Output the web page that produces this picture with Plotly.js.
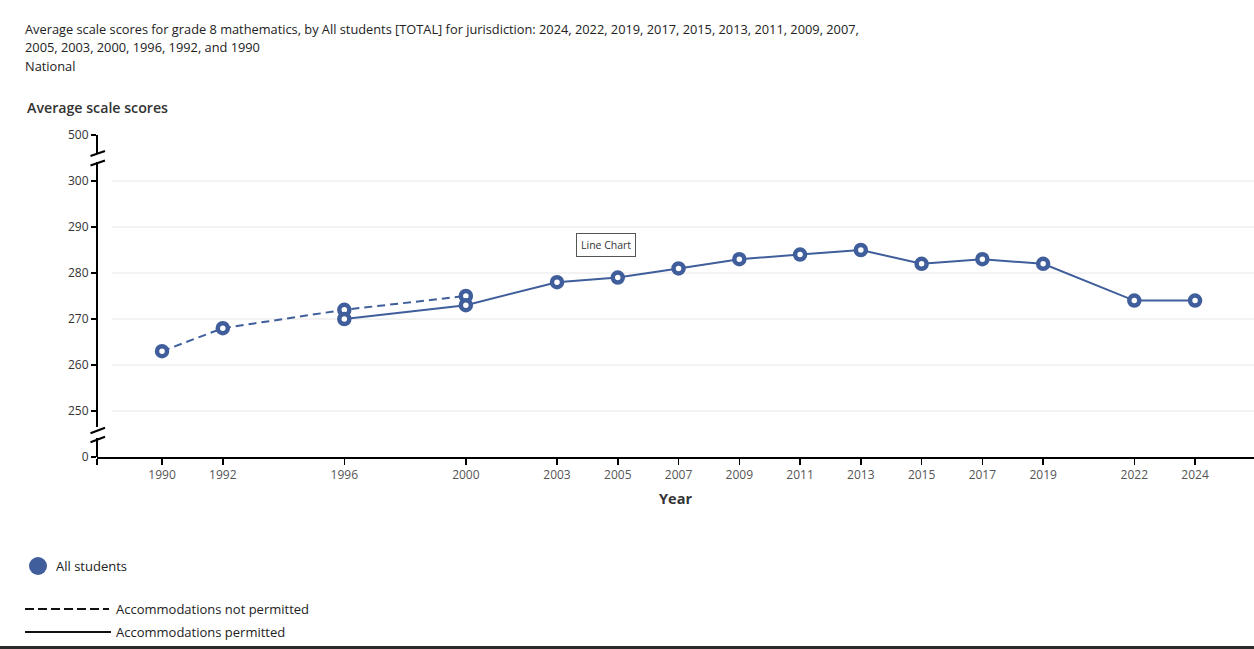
<!DOCTYPE html>
<html>
<head>
<meta charset="utf-8">
<script src="https://cdn.plot.ly/plotly-3.0.1.min.js"></script>
<style>html,body{margin:0;padding:0;background:#fff;}#chart{width:1254px;height:649px;}</style>
</head>
<body>
<div id="chart"></div>
<script>
// ---- data ----
var yearsNotPermitted = [1990, 1992, 1996, 2000];
var scoresNotPermitted = [263, 268, 272, 275];
var yearsPermitted = [1996, 2000, 2003, 2005, 2007, 2009, 2011, 2013, 2015, 2017, 2019, 2022, 2024];
var scoresPermitted = [270, 273, 278, 279, 281, 283, 284, 285, 282, 283, 282, 274, 274];
var tickYears = [1990, 1992, 1996, 2000, 2003, 2005, 2007, 2009, 2011, 2013, 2015, 2017, 2019, 2022, 2024];
var yTickVals = [240, 250, 260, 270, 280, 290, 300, 310];
var yTickText = ['0', '250', '260', '270', '280', '290', '300', '500'];
var gridVals = [250, 260, 270, 280, 290, 300];
var titleLines = [
  'Average scale scores for grade 8 mathematics, by All students [TOTAL] for jurisdiction: 2024, 2022, 2019, 2017, 2015, 2013, 2011, 2009, 2007,',
  '2005, 2003, 2000, 1996, 1992, and 1990',
  'National'
];

// ---- layout helpers (pixel -> paper) ----
var L = 97, R = 1254, T = 135, B = 457;
function px(x) { return (x - L) / (R - L); }
function py(y) { return (B - y) / (B - T); }
var blue = '#3f5e9b';
var xRange = [1987.86, 2025.94];

var traces = [
  {
    x: yearsNotPermitted, y: scoresNotPermitted, type: 'scatter', mode: 'lines+markers',
    line: {color: blue, width: 2, dash: '8px,5px'},
    marker: {symbol: 'circle', size: 10, color: '#ffffff', line: {color: blue, width: 4.5}},
    showlegend: false, hoverinfo: 'skip'
  },
  {
    x: yearsPermitted, y: scoresPermitted, type: 'scatter', mode: 'lines+markers',
    line: {color: blue, width: 2},
    marker: {symbol: 'circle', size: 10, color: '#ffffff', line: {color: blue, width: 4.5}},
    showlegend: false, hoverinfo: 'skip'
  }
];

var shapes = [];
// gridlines
gridVals.forEach(function (v) {
  shapes.push({type: 'line', xref: 'paper', yref: 'y', x0: px(112), x1: 1, y0: v, y1: v,
    line: {color: '#e6e6e6', width: 1}, layer: 'below'});
});
// y axis line with breaks
var yAxisSegs = [[135, 153], [162, 427], [438, 457]];
yAxisSegs.forEach(function (s) {
  shapes.push({type: 'line', xref: 'paper', yref: 'paper', x0: 0, x1: 0, y0: py(s[0]), y1: py(s[1]),
    line: {color: '#000', width: 2}});
});
// break slashes
var slashes = [[156, 151], [165.5, 160.5], [433.3, 427.7], [442.3, 436.7]];
slashes.forEach(function (s) {
  shapes.push({type: 'line', xref: 'paper', yref: 'paper', x0: px(90.5), x1: px(105), y0: py(s[0]), y1: py(s[1]),
    line: {color: '#000', width: 2}});
});
// legend marks
shapes.push({type: 'circle', xref: 'paper', yref: 'paper', x0: px(29), x1: px(47), y0: py(575), y1: py(557),
  fillcolor: blue, line: {color: blue, width: 0}});
shapes.push({type: 'line', xref: 'paper', yref: 'paper', x0: px(25), x1: px(109), y0: py(609), y1: py(609),
  line: {color: '#111', width: 2, dash: '9px,4px'}});
shapes.push({type: 'line', xref: 'paper', yref: 'paper', x0: px(25), x1: px(111), y0: py(632), y1: py(632),
  line: {color: '#111', width: 2}});
// bottom dark bar
shapes.push({type: 'rect', xref: 'paper', yref: 'paper', x0: px(0), x1: 1, y0: py(649), y1: py(646),
  fillcolor: '#2b2b2b', line: {width: 0}});

var annotations = [];
var tyPos = [29, 47.5, 66];
titleLines.forEach(function (t, i) {
  annotations.push({text: t, xref: 'paper', yref: 'paper', x: px(23), y: py(tyPos[i]), xanchor: 'left', yanchor: 'middle',
    showarrow: false, font: {family: 'Open Sans', size: 12.8, color: '#222'}});
});
annotations.push({text: 'Average scale scores', xref: 'paper', yref: 'paper', x: px(25), y: py(107), xanchor: 'left', yanchor: 'middle',
  showarrow: false, font: {family: 'Open Sans', size: 14.2, color: '#333', weight: 600}});
annotations.push({text: 'Line Chart', xref: 'paper', yref: 'paper', x: px(606), y: py(245), xanchor: 'center', yanchor: 'middle',
  showarrow: false, font: {family: 'Open Sans', size: 10.5, color: '#333'}, bordercolor: '#555', borderwidth: 1, borderpad: 4, bgcolor: '#fff'});
annotations.push({text: 'All students', xref: 'paper', yref: 'paper', x: px(54), y: py(566), xanchor: 'left', yanchor: 'middle',
  showarrow: false, font: {family: 'Open Sans', size: 13, color: '#222'}});
annotations.push({text: 'Accommodations not permitted', xref: 'paper', yref: 'paper', x: px(114), y: py(609), xanchor: 'left', yanchor: 'middle',
  showarrow: false, font: {family: 'Open Sans', size: 13, color: '#222'}});
annotations.push({text: 'Accommodations permitted', xref: 'paper', yref: 'paper', x: px(114), y: py(632), xanchor: 'left', yanchor: 'middle',
  showarrow: false, font: {family: 'Open Sans', size: 13, color: '#222'}});

var xTickVals = [xRange[0]].concat(tickYears);
var xTickText = [''].concat(tickYears.map(String));

var layout = {
  width: 1254, height: 649, autosize: false,
  margin: {l: L, r: 1254 - R, t: T, b: 649 - B, pad: 0},
  paper_bgcolor: '#fff', plot_bgcolor: '#fff',
  hovermode: false,
  font: {family: 'Open Sans', color: '#333'},
  xaxis: {
    range: xRange, tickvals: xTickVals, ticktext: xTickText,
    showgrid: false, zeroline: false, showline: true, linecolor: '#000', linewidth: 2,
    ticks: 'outside', ticklen: 6, tickwidth: 1.5, tickcolor: '#000',
    tickfont: {family: 'Open Sans', size: 12, color: '#555'},
    title: {text: 'Year', font: {family: 'Open Sans', size: 14.5, color: '#333', weight: 700}, standoff: 11},
    fixedrange: true
  },
  yaxis: {
    range: [240, 310], tickvals: yTickVals, ticktext: yTickText,
    showgrid: false, zeroline: false, showline: false,
    ticks: 'outside', ticklen: 5, tickwidth: 1.5, tickcolor: '#000',
    tickfont: {family: 'Open Sans', size: 12, color: '#333'},
    fixedrange: true
  },
  shapes: shapes,
  annotations: annotations
};

Plotly.newPlot('chart', traces, layout, {displayModeBar: false, staticPlot: true});
</script>
</body>
</html>
